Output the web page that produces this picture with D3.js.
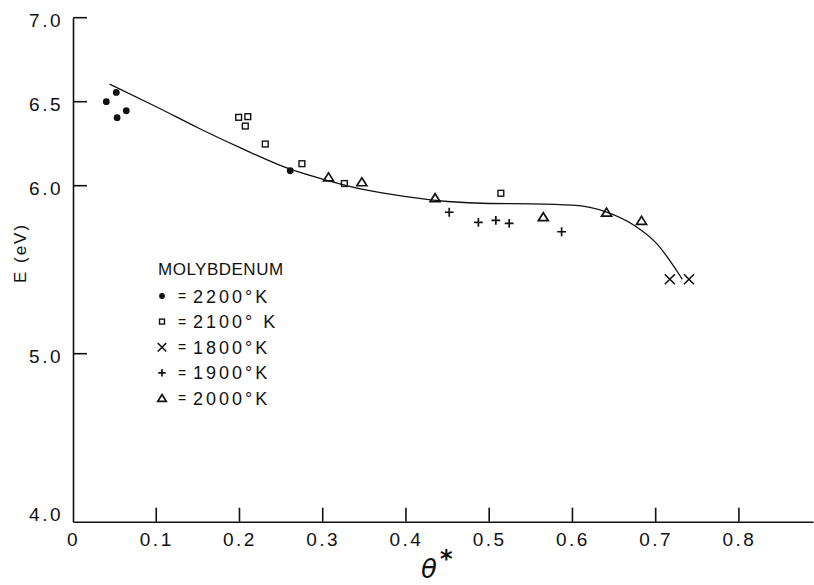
<!DOCTYPE html>
<html>
<head>
<meta charset="utf-8">
<script src="https://cdn.jsdelivr.net/npm/d3@7"></script>
<style>
  html, body { margin: 0; padding: 0; background: #fff; }
  svg { display: block; }
  text { font-family: "Liberation Sans", Arial, sans-serif; fill: #111; }
</style>
</head>
<body>
<svg id="chart" width="814" height="585"></svg>
<script>
// ---- Data ----
const xTicks = [0, 0.1, 0.2, 0.3, 0.4, 0.5, 0.6, 0.7, 0.8];
const yTicks = [4.0, 5.0, 6.0, 6.5, 7.0];

// 2200 K (filled circles)
const t2200 = [[0.040, 6.50], [0.052, 6.555], [0.053, 6.405], [0.064, 6.446], [0.261, 6.089]];
// 2100 K (open squares)
const t2100 = [[0.199, 6.407], [0.210, 6.411], [0.207, 6.355], [0.231, 6.248], [0.275, 6.131], [0.326, 6.013], [0.514, 5.955]];
// 1800 K (crosses x)
const t1800 = [[0.717, 5.443], [0.740, 5.443]];
// 1900 K (plus)
const t1900 = [[0.452, 5.842], [0.487, 5.782], [0.508, 5.794], [0.524, 5.776], [0.587, 5.726]];
// 2000 K (open triangles)
const t2000 = [[0.307, 6.049], [0.347, 6.020], [0.435, 5.925], [0.565, 5.812], [0.641, 5.839], [0.683, 5.790]];

// fitted curve
const curveX = [0.044, 0.10, 0.15, 0.20, 0.261, 0.305, 0.35, 0.40, 0.45, 0.50, 0.55, 0.60, 0.641, 0.673, 0.701, 0.732];
const curveY = [6.605, 6.470, 6.345, 6.228, 6.098, 6.032, 5.976, 5.935, 5.906, 5.894, 5.892, 5.884, 5.843, 5.768, 5.657, 5.443];

const legendTitle = "MOLYBDENUM";
const legendKeys = ["2200", "2100", "1800", "1900", "2000"];
const legendLabels = ["2200°K", "2100° K", "1800°K", "1900°K", "2000°K"];

// ---- Layout ----
const svg = d3.select("#chart");
const x = d3.scaleLinear().domain([0, 0.889]).range([73, 813]);
const y = d3.scaleLinear().domain([4, 7]).range([521.7, 17.7]);

// axes (labels via d3 axes)
const xAxis = d3.axisBottom(x).tickValues(xTicks).tickSize(0).tickPadding(11)
  .tickFormat(d => d === 0 ? "0" : d3.format(".1f")(d));
const gx = svg.append("g").attr("transform", `translate(0,${y(4)})`).call(xAxis);
gx.select(".domain").attr("stroke", "#111").attr("stroke-width", 1.6);
gx.selectAll(".tick line").remove();
gx.selectAll(".tick text").attr("font-size", 19).attr("letter-spacing", 2.5)
  .attr("font-family", "Liberation Sans, Arial, sans-serif").attr("fill", "#111");

const yAxis = d3.axisLeft(y).tickValues(yTicks).tickSize(0).tickPadding(10)
  .tickFormat(d3.format(".1f"));
const gy = svg.append("g").attr("transform", `translate(${x(0)},0)`).call(yAxis);
gy.select(".domain").attr("stroke", "#111").attr("stroke-width", 1.6);
gy.selectAll(".tick line").remove();
gy.selectAll(".tick text").attr("font-size", 19).attr("letter-spacing", 2.5)
  .attr("font-family", "Liberation Sans, Arial, sans-serif").attr("fill", "#111")
  .attr("dy", d => d === 4 ? "-0.05em" : "0.48em");

// inward tick marks as thin filled rectangles
svg.append("g").selectAll("rect").data(xTicks.filter(d => d > 0)).join("rect")
  .attr("x", d => x(d) - 0.8).attr("y", y(4) - 14).attr("width", 1.6).attr("height", 14)
  .attr("fill", "#111");
svg.append("g").selectAll("rect").data(yTicks.filter(d => d > 4)).join("rect")
  .attr("x", x(0)).attr("y", d => y(d) - 0.8).attr("width", 14).attr("height", 1.6)
  .attr("fill", "#111");

// axis titles
svg.append("text")
  .attr("transform", "translate(26,253) rotate(-90)")
  .attr("text-anchor", "middle")
  .attr("font-size", 17).attr("letter-spacing", 2)
  .text("E (eV)");

const xt = svg.append("text").attr("x", 421).attr("y", 578).attr("font-size", 26);
xt.append("tspan").attr("font-family", "DejaVu Sans, sans-serif").attr("font-style", "italic").text("θ");
xt.append("tspan").attr("dx", 3).attr("dy", -11).attr("font-size", 24).attr("font-weight", "bold")
  .attr("font-family", "DejaVu Sans, sans-serif").text("*");

// curve
const curvePts = curveX.map((v, i) => [v, curveY[i]]);
svg.append("path")
  .datum(curvePts)
  .attr("fill", "none").attr("stroke", "#111").attr("stroke-width", 1.3)
  .attr("d", d3.line().x(d => x(d[0])).y(d => y(d[1])).curve(d3.curveMonotoneX));

// symbol painters (size only; position from scales)
function drawSym(g, kind, k) {
  if (kind === "2200") {
    g.append("circle").attr("r", 3.4 * k).attr("fill", "#111");
  } else if (kind === "2100") {
    const a = 2.9 * k;
    g.append("rect").attr("x", -a).attr("y", -a).attr("width", 2 * a).attr("height", 2 * a)
      .attr("fill", "none").attr("stroke", "#111").attr("stroke-width", 1.4);
  } else if (kind === "1800") {
    const a = 5 * k;
    g.append("path").attr("d", `M${-a},${-a}L${a},${a}M${-a},${a}L${a},${-a}`)
      .attr("stroke", "#111").attr("stroke-width", 1.6).attr("fill", "none");
  } else if (kind === "1900") {
    const a = 4.4 * k;
    g.append("path").attr("d", `M${-a},0L${a},0M0,${-a}L0,${a}`)
      .attr("stroke", "#111").attr("stroke-width", 1.7).attr("fill", "none");
  } else if (kind === "2000") {
    const w = 5 * k, h1 = 4.6 * k, h2 = 3.4 * k;
    g.append("path").attr("d", `M0,${-h1}L${w},${h2}L${-w},${h2}Z`)
      .attr("stroke", "#111").attr("stroke-width", 1.7).attr("fill", "none");
  }
}

const series = [["2200", t2200], ["2100", t2100], ["1800", t1800], ["1900", t1900], ["2000", t2000]];
series.forEach(([key, pts]) => {
  svg.append("g").selectAll("g").data(pts).join("g")
    .attr("transform", d => `translate(${x(d[0])},${y(d[1])})`)
    .each(function () { drawSym(d3.select(this), key, 1); });
});

// legend
svg.append("text").attr("x", 158).attr("y", 275).attr("font-size", 17).attr("letter-spacing", 0.5).text(legendTitle);
legendKeys.forEach((k, i) => {
  const cy = 296 + i * 25.6;
  const g = svg.append("g").attr("transform", `translate(162,${cy})`);
  drawSym(g, k, 0.85);
  svg.append("text").attr("x", 178).attr("y", cy + 5).attr("font-size", 14).text("=");
  svg.append("text").attr("x", 193).attr("y", cy + 6.5).attr("font-size", 18).attr("letter-spacing", 3).text(legendLabels[i]);
});
</script>
</body>
</html>
